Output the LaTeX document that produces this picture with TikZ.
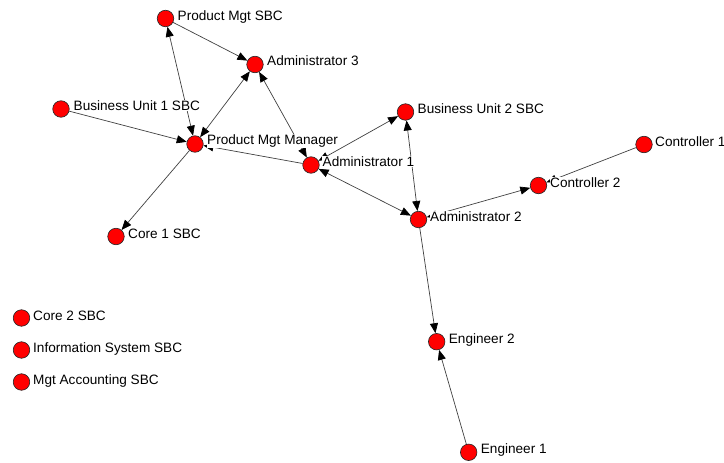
\documentclass[tikz,border=0pt]{standalone}
\usepackage{fontspec}
\setmainfont{Liberation Sans}
\usetikzlibrary{arrows.meta,calc}

\tikzset{
  vtx/.style={circle, draw=black!85, fill=red, minimum size=16.5pt, inner sep=0pt, line width=0.6pt},
  lbl/.style={anchor=base west, fill=white, inner sep=0.5pt, font=\fontsize{13.6}{16}\selectfont},
  link/.style={draw=black!75, line width=0.7pt},
  >={Triangle[length=10pt,width=8pt,color=black]}
}

\begin{document}
\begin{tikzpicture}[x=1pt,y=-1pt]
  \useasboundingbox (0,0) rectangle (724,463);

  % vertices
  \node[vtx] (pmsbc) at (165.5,18.5) {};
  \node[vtx] (adm3)  at (255,64.5)  {};
  \node[vtx] (bu1)   at (61,109)    {};
  \node[vtx] (pmm)   at (195,144)   {};
  \node[vtx] (adm1)  at (311,165)   {};
  \node[vtx] (bu2)   at (405.5,112) {};
  \node[vtx] (ctl1)  at (644,144.5) {};
  \node[vtx] (ctl2)  at (538.5,185.5) {};
  \node[vtx] (adm2)  at (418.5,219.5) {};
  \node[vtx] (core1) at (116,236.5) {};
  \node[vtx] (core2) at (21.5,318)  {};
  \node[vtx] (infos) at (21.5,350)  {};
  \node[vtx] (mgtac) at (21.5,382)  {};
  \node[vtx] (eng2)  at (436.7,341.7) {};
  \node[vtx] (eng1)  at (468.7,452.3) {};

  % connections
  \draw[link,<->] (pmsbc) -- (pmm);
  \draw[link,->]  (pmsbc) -- (adm3);
  \draw[link,<->] (pmm)   -- (adm3);
  \draw[link,<->] (adm1)  -- (adm3);
  \draw[link,->]  (bu1)   -- (pmm);
  \draw[link,->]  (pmm)   -- (core1);
  \draw[link,->]  (adm1)  -- (pmm);
  \draw[link,<->] (adm1)  -- (adm2);
  \draw[link,<->] (adm1)  -- (bu2);
  \draw[link,<->] (bu2)   -- (adm2);
  \draw[link,<->] (adm2)  -- (ctl2);
  \draw[link,->]  (ctl1)  -- (ctl2);
  \draw[link,->]  (adm2)  -- (eng2);
  \draw[link,->]  (eng1)  -- (eng2);

  % labels
  \node[lbl] (pmsbc-l) at ($(pmsbc)+(11.5,1.5)$) {Product Mgt SBC};
  \node[lbl] (adm3-l)  at ($(adm3)+(11.5,1.2)$)  {Administrator 3};
  \node[lbl] (bu1-l)   at ($(bu1)+(12,1)$)       {Business Unit 1 SBC};
  \node[lbl] (pmm-l)   at ($(pmm)+(11.5,0.5)$)   {Product Mgt Manager};
  \node[lbl] (adm1-l)  at ($(adm1)+(11,1.5)$)    {Administrator 1};
  \node[lbl] (bu2-l)   at ($(bu2)+(11.5,1.5)$)   {Business Unit 2 SBC};
  \node[lbl] (ctl1-l)  at ($(ctl1)+(10.5,1.5)$)  {Controller 1};
  \node[lbl] (ctl2-l)  at ($(ctl2)+(11,1.5)$)    {Controller 2};
  \node[lbl] (adm2-l)  at ($(adm2)+(11,1.5)$)    {Administrator 2};
  \node[lbl] (core1-l) at ($(core1)+(11.5,1.5)$) {Core 1 SBC};
  \node[lbl] (core2-l) at ($(core2)+(11,2)$)     {Core 2 SBC};
  \node[lbl] (infos-l) at ($(infos)+(11,2)$)     {Information System SBC};
  \node[lbl] (mgtac-l) at ($(mgtac)+(11,2)$)     {Mgt Accounting SBC};
  \node[lbl] (eng2-l)  at ($(eng2)+(11.5,1.5)$)  {Engineer 2};
  \node[lbl] (eng1-l)  at ($(eng1)+(11.5,1.5)$)  {Engineer 1};
\end{tikzpicture}
\end{document}
